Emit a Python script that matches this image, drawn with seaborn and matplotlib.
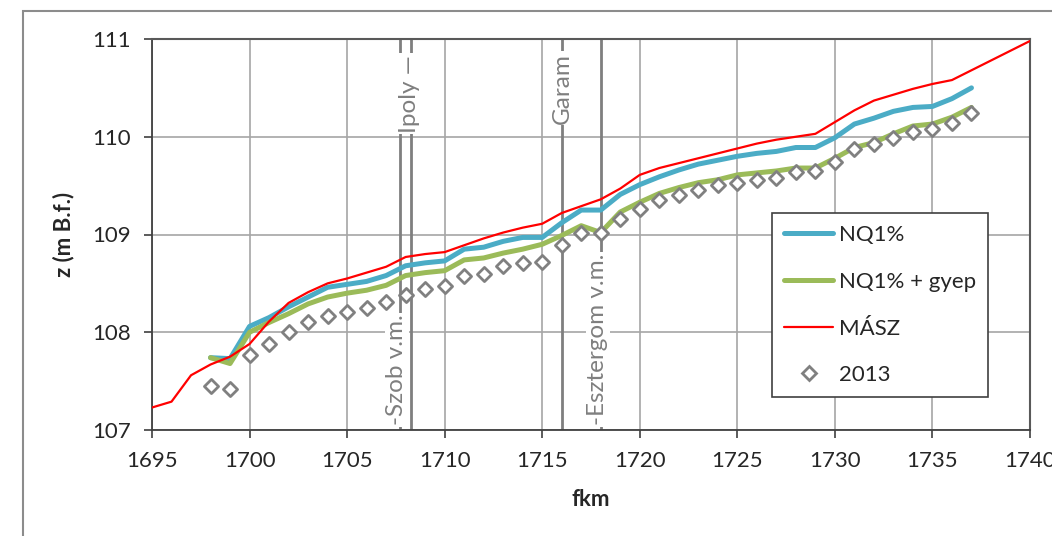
import numpy as np
import pandas as pd
import matplotlib
matplotlib.use("Agg")
import matplotlib.pyplot as plt
import seaborn as sns
from matplotlib.patches import Rectangle
from matplotlib.lines import Line2D

# ---------------- data ----------------
km_nq = list(range(1698, 1738))
nq1 = [107.74, 107.73, 108.06, 108.15, 108.26, 108.36, 108.46, 108.49, 108.52, 108.58,
       108.68, 108.71, 108.73, 108.85, 108.87, 108.93, 108.97, 108.97, 109.12, 109.25,
       109.25, 109.41, 109.51, 109.59, 109.66, 109.72, 109.76, 109.80, 109.83, 109.85,
       109.89, 109.89, 109.99, 110.13, 110.19, 110.26, 110.30, 110.31, 110.39, 110.50]
nq1_gyep = [107.74, 107.68, 108.00, 108.10, 108.19, 108.29, 108.36, 108.40, 108.43, 108.48,
            108.58, 108.61, 108.63, 108.74, 108.76, 108.81, 108.85, 108.90, 108.99, 109.09,
            109.02, 109.23, 109.33, 109.42, 109.48, 109.53, 109.56, 109.61, 109.63, 109.65,
            109.68, 109.68, 109.78, 109.89, 109.94, 110.03, 110.11, 110.13, 110.20, 110.30]
km_masz = [1695, 1696, 1697, 1698, 1699, 1700, 1701, 1702, 1703, 1704, 1705, 1706, 1707,
           1708, 1709, 1710, 1711, 1712, 1713, 1714, 1715, 1716, 1717, 1718, 1719, 1720,
           1721, 1722, 1723, 1724, 1725, 1726, 1727, 1728, 1729, 1730, 1731, 1732, 1733,
           1734, 1735, 1736, 1740]
masz = [107.23, 107.29, 107.56, 107.67, 107.75, 107.88, 108.11, 108.30, 108.41, 108.50,
        108.55, 108.61, 108.67, 108.77, 108.80, 108.82, 108.89, 108.96, 109.02, 109.07,
        109.11, 109.22, 109.29, 109.36, 109.47, 109.61, 109.68, 109.73, 109.78, 109.83,
        109.88, 109.93, 109.97, 110.00, 110.03, 110.15, 110.27, 110.37, 110.43, 110.49,
        110.54, 110.58, 110.98]
km_2013 = list(range(1698, 1738))
z_2013 = [107.45, 107.42, 107.77, 107.88, 108.00, 108.10, 108.17, 108.21, 108.25, 108.31,
          108.38, 108.44, 108.47, 108.58, 108.60, 108.68, 108.71, 108.72, 108.89, 109.02,
          109.02, 109.16, 109.26, 109.35, 109.40, 109.46, 109.51, 109.53, 109.56, 109.58,
          109.64, 109.65, 109.74, 109.87, 109.93, 109.99, 110.05, 110.08, 110.14, 110.24]

marker_km = [1707.7, 1708.3, 1716.0, 1718.0]
marker_labels = ["-Szob v.m.", "Ipoly \u2014", "Garam", "-Esztergom v.m."]

x_ticks = [1695, 1700, 1705, 1710, 1715, 1720, 1725, 1730, 1735, 1740]
y_ticks = [107, 108, 109, 110, 111]

# ---------------- style ----------------
sns.set_style("white")
plt.rcParams['font.family'] = ['Lato', 'DejaVu Sans']

fig = plt.figure(figsize=(10.52, 5.36), dpi=100)
ax = fig.add_axes([152/1052, 1-430/536, (1030-152)/1052, (430-39)/536])

# outer chart border
fig.patches.append(Rectangle((23/1052, -0.1), 1.2, 1.1 - 11/536,
                             transform=fig.transFigure, fill=False,
                             edgecolor='#8c8c8c', linewidth=1.5, zorder=0))

df_nq = pd.DataFrame({"fkm": km_nq, "NQ1%": nq1, "NQ1% + gyep": nq1_gyep})
df_masz = pd.DataFrame({"fkm": km_masz, "z": masz})
df_2013 = pd.DataFrame({"fkm": km_2013, "z": z_2013})

grid_c = '#a6a6a6'
for xv in x_ticks:
    ax.axvline(xv, color=grid_c, lw=1.2, zorder=0.5)
for yv in y_ticks:
    ax.axhline(yv, color=grid_c, lw=1.2, zorder=0.5)

# vertical marker lines with labels
for km in marker_km:
    ax.axvline(km, color='#7f7f7f', lw=2.0, zorder=1)

txt_kw = dict(rotation=90, color='#7f7f7f', fontsize=17.5, ha='center', zorder=2,
              bbox=dict(facecolor='white', edgecolor='none', pad=1.0))
ax.text(1707.55, 107.05, marker_labels[0], va='bottom', **txt_kw)
ax.text(1708.22, 110.84, marker_labels[1], va='top', **txt_kw)
ax.text(1716.05, 110.86, marker_labels[2], va='top', **txt_kw)
ax.text(1717.85, 107.05, marker_labels[3], va='bottom', **txt_kw)

sns.lineplot(data=df_nq, x="fkm", y="NQ1%", ax=ax, color='#4BACC6', lw=3.6,
             zorder=3, solid_capstyle='round')
sns.lineplot(data=df_nq, x="fkm", y="NQ1% + gyep", ax=ax, color='#9BBB59', lw=3.6,
             zorder=3.5, solid_capstyle='round')
sns.lineplot(data=df_masz, x="fkm", y="z", ax=ax, color='#FF0000', lw=1.6, zorder=4)
sns.scatterplot(data=df_2013, x="fkm", y="z", ax=ax, marker='D', s=52,
                facecolor='white', edgecolor='#808080', linewidth=2.0, zorder=5)

ax.set_xlim(1695, 1740)
ax.set_ylim(107, 111)
ax.set_xticks(x_ticks)
ax.set_yticks(y_ticks)
ax.tick_params(axis='both', labelsize=16, length=6, width=1.2, color='#404040',
               labelcolor='#262626', pad=9, direction='out')
ax.tick_params(axis='both', which='both', left=True, bottom=True)

for s in ['left', 'bottom']:
    ax.spines[s].set_color('#404040')
    ax.spines[s].set_linewidth(1.3)
ax.spines['top'].set_color('#595959')
ax.spines['top'].set_linewidth(1.5)
ax.spines['right'].set_color('#595959')
ax.spines['right'].set_linewidth(1.5)
for s in ax.spines.values():
    s.set_visible(True)

ax.set_xlabel("fkm", fontsize=16, fontweight='bold', labelpad=13, color='#262626')
ax.set_ylabel("z (m B.f.)", fontsize=16, fontweight='bold', labelpad=13, color='#262626')

handles = [Line2D([0], [0], color='#4BACC6', lw=3.6, solid_capstyle='round'),
           Line2D([0], [0], color='#9BBB59', lw=3.6, solid_capstyle='round'),
           Line2D([0], [0], color='#FF0000', lw=1.6),
           Line2D([0], [0], marker='D', ls='none', markersize=7, markerfacecolor='white',
                  markeredgecolor='#808080', markeredgewidth=2.0)]
labels = ["NQ1%", "NQ1% + gyep", "MÁSZ", "2013"]
leg = ax.legend(handles, labels, loc='upper left', bbox_to_anchor=(0.706, 0.555),
                borderaxespad=0, fontsize=16, frameon=True, fancybox=False, framealpha=1,
                edgecolor='#404040', handlelength=2.2, handletextpad=0.25,
                labelspacing=1.2, borderpad=0.55)
leg.get_frame().set_linewidth(1.2)
leg.set_zorder(10)

fig.savefig("out.png", dpi=100)
